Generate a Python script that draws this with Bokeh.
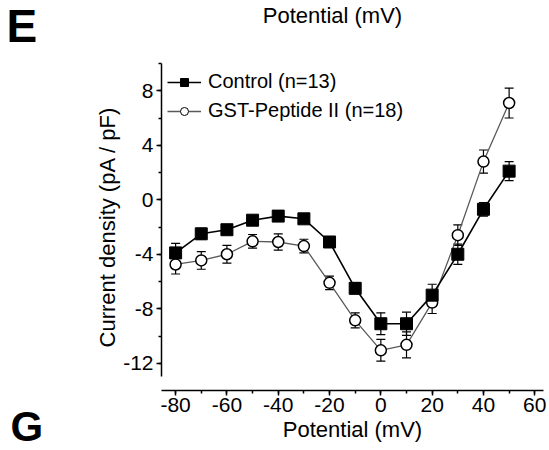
from bokeh.plotting import figure
from bokeh.models import (ColumnDataSource, Whisker, TeeHead, Range1d, SingleIntervalTicker,
                          Legend, LegendItem, Label, PrintfTickFormatter)
from bokeh.embed import file_html
from bokeh.resources import INLINE

# ---- data ----
potential = [-80, -70, -60, -50, -40, -30, -20, -10, 0, 10, 20, 30, 40, 50]
control = [-3.9, -2.5, -2.2, -1.5, -1.2, -1.4, -3.1, -6.5, -9.1, -9.1, -7.0, -4.0, -0.7, 2.1]
control_err = [0.7, 0.4, 0.3, 0.3, 0.3, 0.3, 0.3, 0.4, 0.8, 0.85, 0.8, 0.75, 0.5, 0.7]
peptide = [-4.75, -4.45, -4.0, -3.05, -3.1, -3.4, -6.1, -8.85, -11.05, -10.65, -7.55, -2.6, 2.8, 7.1]
peptide_err = [0.7, 0.65, 0.65, 0.5, 0.6, 0.5, 0.5, 0.55, 0.8, 0.95, 0.8, 0.75, 0.85, 1.1]
series_labels = ["Control (n=13)", "GST-Peptide II (n=18)"]
x_title = "Potential (mV)"
y_title = "Current density (pA / pF)"
panel_letters = ["E", "G"]

FONT = "Liberation Sans"
XMIN, XMAX = -85.5, 63.4
YMIN, YMAX = -14.0, 10.0

p = figure(width=549, height=450, output_backend="svg", toolbar_location=None,
           x_range=Range1d(XMIN, XMAX), y_range=Range1d(YMIN, YMAX),
           min_border_left=161, min_border_right=6, min_border_top=63, min_border_bottom=60)
p.outline_line_color = None
p.xgrid.visible = False
p.ygrid.visible = False
p.background_fill_color = "white"
p.border_fill_color = "white"

def src(vals, errs):
    return ColumnDataSource(dict(x=potential, y=vals,
                                 upper=[v + e for v, e in zip(vals, errs)],
                                 lower=[v - e for v, e in zip(vals, errs)]))

s_ctl = src(control, control_err)
s_pep = src(peptide, peptide_err)

for s in (s_pep, s_ctl):
    p.add_layout(Whisker(base="x", upper="upper", lower="lower", source=s,
                         line_color="black", line_width=1.2,
                         upper_head=TeeHead(size=9, line_color="black", line_width=1.2),
                         lower_head=TeeHead(size=9, line_color="black", line_width=1.2)))

p.line("x", "y", source=s_pep, line_color="#5a5a5a", line_width=1.3)
p.scatter("x", "y", source=s_pep, marker="circle", size=11, fill_color="white",
          line_color="black", line_width=1.5)
p.line("x", "y", source=s_ctl, line_color="black", line_width=1.6)
p.scatter("x", "y", source=s_ctl, marker="square", size=12, fill_color="black",
          line_color="black", line_width=1)

# legend proxies (small markers as in the original); NaN points are never drawn in the frame
nan = float("nan")
proxy = ColumnDataSource(dict(x=[nan], y=[nan]))
l1 = p.line("x", "y", source=proxy, line_color="black", line_width=1.6)
m1 = p.scatter("x", "y", source=proxy, marker="square", size=5, fill_color="black", line_color="black")
l2 = p.line("x", "y", source=proxy, line_color="#5a5a5a", line_width=1.3)
m2 = p.scatter("x", "y", source=proxy, marker="circle", size=6, fill_color="white",
               line_color="black", line_width=1)
legend = Legend(items=[LegendItem(label=series_labels[0], renderers=[l1, m1]),
                       LegendItem(label=series_labels[1], renderers=[l2, m2])],
                location="top_left", margin=6, padding=9, spacing=4,
                glyph_width=34, glyph_height=20, label_standoff=7,
                label_text_font=FONT, label_text_font_size="20px", label_height=25,
                label_text_color="black",
                border_line_color=None, background_fill_alpha=0)
p.add_layout(legend)

# axes
xa = p.xaxis[0]
xa.ticker = SingleIntervalTicker(interval=20, num_minor_ticks=2)
xa.axis_label = x_title
ya = p.yaxis[0]
ya.ticker = SingleIntervalTicker(interval=4, num_minor_ticks=2)
ya.bounds = (-13, 10)
ya.axis_label = y_title
for ax in (xa, ya):
    ax.formatter = PrintfTickFormatter(format="%d")
    ax.axis_line_color = "black"
    ax.axis_line_width = 1.5
    ax.major_tick_line_color = "black"
    ax.major_tick_line_width = 1.5
    ax.minor_tick_line_color = "black"
    ax.minor_tick_line_width = 1.5
    ax.major_tick_out = 5
    ax.major_tick_in = 0
    ax.minor_tick_out = 3
    ax.minor_tick_in = 0
    ax.major_label_text_font = FONT
    ax.major_label_text_font_size = "21px"
    ax.major_label_text_color = "black"
    ax.axis_label_text_font = FONT
    ax.axis_label_text_font_size = "22px"
    ax.axis_label_text_font_style = "normal"
    ax.axis_label_text_color = "black"
xa.major_label_standoff = 2
xa.axis_label_standoff = 2
ya.major_label_standoff = 3
ya.axis_label_standoff = 0

# texts outside the frame, in side panels (not clipped)
p.add_layout(Label(x=171, y=48, x_units="screen", y_units="screen", text=x_title,
                   text_align="center", text_baseline="middle", text_font=FONT,
                   text_font_size="22px", text_color="black"), "above")
p.add_layout(Label(x=-55, y=365, x_units="screen", y_units="screen", text=panel_letters[0],
                   text_align="left", text_baseline="alphabetic", text_font=FONT,
                   text_font_size="46px", text_font_style="bold", text_color="black"), "left")
p.add_layout(Label(x=-18, y=-36, x_units="screen", y_units="screen", text=panel_letters[1],
                   text_align="left", text_baseline="alphabetic", text_font=FONT,
                   text_font_size="42px", text_font_style="bold", text_color="black"), "left")

open("out.html", "w").write(file_html(p, INLINE))
